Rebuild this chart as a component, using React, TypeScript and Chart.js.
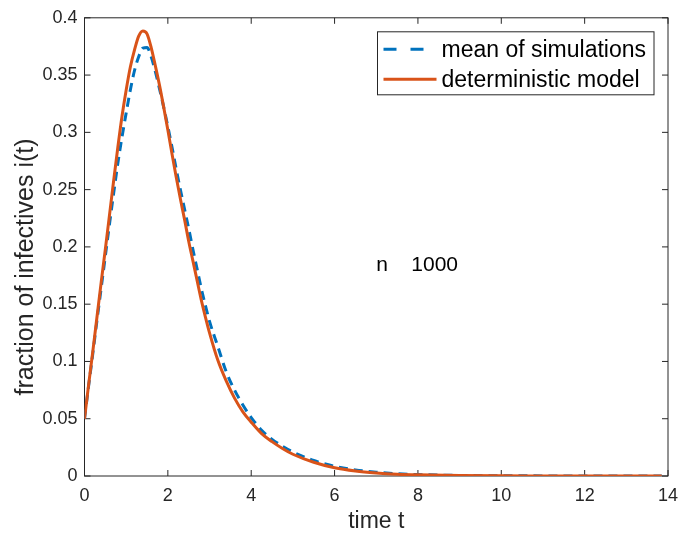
import React, { useEffect, useRef } from "react";
import { Chart, registerables } from "chart.js";

Chart.register(...registerables);

// ---- data ----
const tDet = [0, 0.1, 0.2, 0.3, 0.4, 0.5, 0.6, 0.7, 0.8, 0.9, 1.0, 1.1, 1.2, 1.3, 1.4, 1.5, 1.6, 1.7, 1.8, 1.9, 2.0, 2.1, 2.2, 2.3, 2.4, 2.5, 2.6, 2.7, 2.8, 2.9, 3.0, 3.2, 3.4, 3.6, 3.8, 4.0, 4.25, 4.5, 4.75, 5.0, 5.5, 6.0, 6.5, 7.0, 7.5, 8.0, 9, 10, 11, 12, 13, 13.85];
const iDet = [0.05, 0.080, 0.109, 0.139, 0.169, 0.198, 0.228, 0.258, 0.287, 0.314, 0.337, 0.357, 0.372, 0.384, 0.3885, 0.386, 0.374, 0.358, 0.341, 0.322, 0.302, 0.281, 0.261, 0.242, 0.224, 0.205, 0.188, 0.171, 0.154, 0.139, 0.125, 0.101, 0.083, 0.068, 0.056, 0.047, 0.037, 0.030, 0.024, 0.019, 0.012, 0.0072, 0.0044, 0.0027, 0.0016, 0.0010, 0.0004, 0.00015, 0.00006, 0.00002, 0.00001, 0.000004];

const tSim = [0, 0.1, 0.2, 0.3, 0.4, 0.5, 0.6, 0.7, 0.8, 0.9, 1.0, 1.1, 1.2, 1.3, 1.4, 1.5, 1.6, 1.7, 1.8, 1.9, 2.0, 2.1, 2.2, 2.3, 2.4, 2.5, 2.6, 2.7, 2.8, 2.9, 3.0, 3.2, 3.4, 3.6, 3.8, 4.0, 4.25, 4.5, 4.75, 5.0, 5.5, 6.0, 6.5, 7.0, 7.5, 8.0, 9, 10, 11, 12, 13, 13.85];
const iSim = [0.05, 0.079, 0.107, 0.136, 0.164, 0.192, 0.220, 0.247, 0.273, 0.296, 0.317, 0.337, 0.354, 0.366, 0.3735, 0.374, 0.366, 0.353, 0.338, 0.322, 0.305, 0.287, 0.268, 0.250, 0.233, 0.216, 0.198, 0.181, 0.164, 0.149, 0.135, 0.113, 0.091, 0.075, 0.062, 0.051, 0.040, 0.032, 0.026, 0.021, 0.0135, 0.0085, 0.0053, 0.0033, 0.002, 0.0013, 0.0005, 0.0002, 0.0001, 0.00004, 0.00002, 0.00001];

const xTicks = [0, 2, 4, 6, 8, 10, 12, 14];
const yTicks = [0, 0.05, 0.1, 0.15, 0.2, 0.25, 0.3, 0.35, 0.4];
const legendLabels = ["mean of simulations", "deterministic model"];
const annotationText = "n    1000";
const annotationPos = { x: 7, y: 0.184 };
const xTitle = "time t";
const yTitle = "fraction of infectives i(t)";

const BLUE = "#0072BD";
const ORANGE = "#D95319";
const AX = "#262626";
const FONT = "'Liberation Sans', Arial, Helvetica, sans-serif";
const DASH = [9, 6];

const boxPlugin = {
  id: "matlabBox",
  beforeDatasetsDraw(chart: any) {
    const { ctx, chartArea: a, scales } = chart;
    ctx.save();
    ctx.strokeStyle = AX;
    ctx.lineWidth = 1;
    ctx.strokeRect(a.left, a.top, a.right - a.left, a.bottom - a.top);
    const tl = 6;
    ctx.beginPath();
    for (const v of xTicks) {
      const px = scales.x.getPixelForValue(v);
      ctx.moveTo(px, a.bottom);
      ctx.lineTo(px, a.bottom - tl);
      ctx.moveTo(px, a.top);
      ctx.lineTo(px, a.top + tl);
    }
    for (const v of yTicks) {
      const py = scales.y.getPixelForValue(v);
      ctx.moveTo(a.left, py);
      ctx.lineTo(a.left + tl, py);
      ctx.moveTo(a.right, py);
      ctx.lineTo(a.right - tl, py);
    }
    ctx.stroke();
    ctx.restore();
  },
  afterDraw(chart: any) {
    const { ctx, chartArea: a, scales } = chart;
    ctx.save();
    // y axis title
    ctx.save();
    ctx.translate(33, (a.top + a.bottom) / 2 + 20);
    ctx.rotate(-Math.PI / 2);
    ctx.fillStyle = AX;
    ctx.font = `25px ${FONT}`;
    ctx.textAlign = "center";
    ctx.textBaseline = "alphabetic";
    ctx.fillText(yTitle, 0, 0);
    ctx.restore();

    // annotation
    ctx.fillStyle = "#000";
    ctx.font = `21px ${FONT}`;
    ctx.textAlign = "left";
    ctx.textBaseline = "middle";
    ctx.fillText(annotationText, scales.x.getPixelForValue(annotationPos.x), scales.y.getPixelForValue(annotationPos.y));

    // legend
    const bw = 276.5, bh = 63;
    const bx = a.right - 14 - bw;
    const by = a.top + 14;
    ctx.fillStyle = "#fff";
    ctx.fillRect(bx, by, bw, bh);
    ctx.strokeStyle = AX;
    ctx.lineWidth = 1;
    ctx.strokeRect(bx, by, bw, bh);
    const rows = [by + 17.5, by + 47.5];
    const colors = [BLUE, ORANGE];
    ctx.font = `23px ${FONT}`;
    ctx.textBaseline = "middle";
    rows.forEach((ry, i) => {
      ctx.beginPath();
      ctx.strokeStyle = colors[i];
      ctx.lineWidth = 3;
      ctx.setLineDash(i === 0 ? [13, 14] : []);
      ctx.moveTo(bx + 6, ry);
      ctx.lineTo(bx + 59, ry);
      ctx.stroke();
      ctx.setLineDash([]);
      ctx.fillStyle = "#000";
      ctx.fillText(legendLabels[i], bx + 64, ry + 1);
    });
    ctx.restore();
  },
};

export default function App() {
  const ref = useRef<HTMLCanvasElement | null>(null);

  useEffect(() => {
    if (!ref.current) return;
    document.body.style.margin = "0";
    const chart = new Chart(ref.current, {
      type: "line",
      data: {
        datasets: [
          {
            label: legendLabels[0],
            data: tSim.map((t, i) => ({ x: t, y: iSim[i] })),
            borderColor: BLUE,
            borderWidth: 3,
            borderDash: DASH,
            pointRadius: 0,
            fill: false,
            cubicInterpolationMode: "monotone",
            order: 1,
          },
          {
            label: legendLabels[1],
            data: tDet.map((t, i) => ({ x: t, y: iDet[i] })),
            borderColor: ORANGE,
            borderWidth: 3,
            pointRadius: 0,
            fill: false,
            cubicInterpolationMode: "monotone",
            order: 0,
          },
        ],
      },
      options: {
        animation: false,
        responsive: false,
        devicePixelRatio: 1,
        layout: { padding: { top: 15, right: 0, left: 0, bottom: 0 } },
        plugins: { legend: { display: false }, tooltip: { enabled: false } },
        scales: {
          x: {
            type: "linear",
            min: 0,
            max: 14,
            afterFit: (s: any) => { s.height = 60; s.paddingRight = 10; },
            afterBuildTicks: (s: any) => { s.ticks = xTicks.map((v) => ({ value: v })); },
            grid: { display: false, drawTicks: false },
            border: { display: false },
            ticks: {
              color: AX,
              font: { size: 18, family: FONT },
              padding: 9,
              maxRotation: 0,
              callback: (v: any) => String(v),
            },
            title: {
              display: true,
              text: xTitle,
              color: AX,
              font: { size: 23, family: FONT },
              padding: { top: 0, bottom: 1 },
            },
          },
          y: {
            type: "linear",
            min: 0,
            max: 0.4,
            afterFit: (s: any) => { s.width = 84.5; },
            afterBuildTicks: (s: any) => { s.ticks = yTicks.map((v) => ({ value: v })); },
            grid: { display: false, drawTicks: false },
            border: { display: false },
            ticks: {
              color: AX,
              font: { size: 18, family: FONT },
              padding: 7,
              callback: (v: any) => String(Number(Number(v).toFixed(2))),
            },
            title: { display: false },
          },
        },
      },
      plugins: [boxPlugin],
    } as any);
    return () => chart.destroy();
  }, []);

  return (
    <div style={{ position: "absolute", left: 0, top: 0, width: 678, height: 536, background: "#fff" }}>
      <canvas ref={ref} width={678} height={536} />
    </div>
  );
}
